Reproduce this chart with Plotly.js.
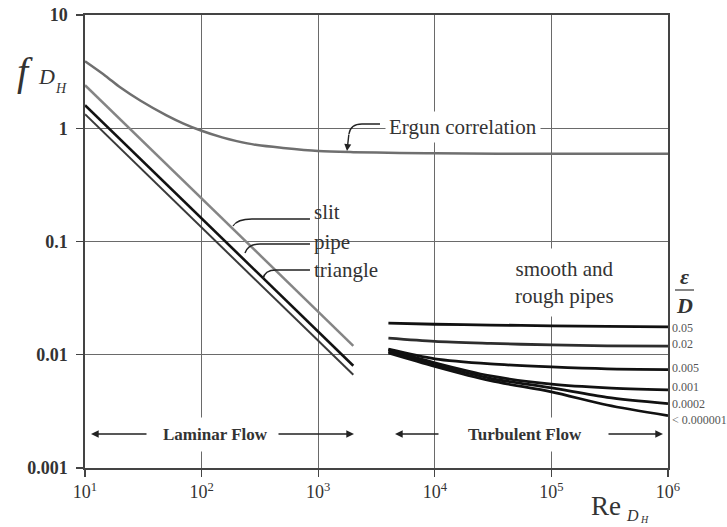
<!DOCTYPE html>
<html>
<head>
<meta charset="utf-8">
<script src="https://cdn.plot.ly/plotly-3.0.1.min.js"></script>
<style>
  html, body { margin: 0; padding: 0; background: #fff; }
  #chart { width: 727px; height: 527px; }
</style>
</head>
<body>
<div id="chart"></div>
<script>
// Laminar lines (Fanning friction factor vs Reynolds number)
const laminarRe = [10, 2000];
const slitF = [2.4, 0.012];
const pipeF = [1.6, 0.008];
const triangleF = [1.33, 0.00665];

// Ergun correlation for packed beds
const ergunRe = [10, 15, 20, 30, 50, 70, 100, 150, 200, 300, 500, 1000, 2000, 5000, 1e4, 1e5, 1e6];
const ergunF = [3.9, 2.9, 2.3, 1.75, 1.3, 1.1, 0.95, 0.83, 0.77, 0.71, 0.67, 0.63, 0.615, 0.605, 0.6, 0.595, 0.595];

// Turbulent flow: smooth and rough pipes
const turbRe = [4000, 1e4, 3e4, 1e5, 3e5, 1e6];
const roughnessLabels = ['0.05', '0.02', '0.005', '0.001', '0.0002', '< 0.000001'];
const turbF = [
  [0.0190, 0.0186, 0.0183, 0.0180, 0.0178, 0.0176],
  [0.0140, 0.0131, 0.0126, 0.0122, 0.0120, 0.0119],
  [0.0112, 0.0092, 0.0083, 0.0078, 0.0075, 0.0074],
  [0.0111, 0.0085, 0.0065, 0.0055, 0.0051, 0.0049],
  [0.0107, 0.0082, 0.0062, 0.0051, 0.0042, 0.0037],
  [0.0104, 0.0079, 0.0059, 0.0047, 0.0036, 0.0029]
];

const xTickVals = [1e1, 1e2, 1e3, 1e4, 1e5, 1e6];
const xTickText = ['10<sup>1</sup>', '10<sup>2</sup>', '10<sup>3</sup>', '10<sup>4</sup>', '10<sup>5</sup>', '10<sup>6</sup>'];
const yTickVals = [0.001, 0.01, 0.1, 1, 10];
const yTickText = ['0.001', '0.01', '0.1', '1', '10'];

// plot frame in pixels
const L = 85, R = 668, T = 15, B = 468;
const X = p => (p - L) / (R - L);
const Y = p => (B - p) / (B - T);

const serif = 'Liberation Serif, Times New Roman, serif';
const ink = '#333';

const traces = [];
traces.push({x: ergunRe, y: ergunF, mode: 'lines', line: {color: '#6f6f6f', width: 2.5, shape: 'spline', smoothing: 0.8}, hoverinfo: 'skip'});
traces.push({x: laminarRe, y: slitF, mode: 'lines', line: {color: '#858585', width: 2.5}, hoverinfo: 'skip'});
traces.push({x: laminarRe, y: pipeF, mode: 'lines', line: {color: '#111', width: 2.6}, hoverinfo: 'skip'});
traces.push({x: laminarRe, y: triangleF, mode: 'lines', line: {color: '#3a3a3a', width: 2}, hoverinfo: 'skip'});
turbF.forEach((f, i) => {
  traces.push({x: turbRe, y: f, mode: 'lines',
    line: {color: i === 1 ? '#2e2e2e' : '#111', width: 2.8, shape: 'spline', smoothing: 0.8},
    hoverinfo: 'skip'});
});

const labelYs = [328, 344, 368, 387, 404, 420];
const annotations = [];
roughnessLabels.forEach((t, i) => {
  annotations.push({xref: 'paper', yref: 'paper', x: X(670), y: Y(labelYs[i]), xanchor: 'left', yanchor: 'middle',
    text: t, showarrow: false, font: {family: serif, size: 12, color: '#555'}});
});

function txt(t, px, py, size, opts) {
  return Object.assign({xref: 'paper', yref: 'paper', x: X(px), y: Y(py), text: t, showarrow: false,
    xanchor: 'center', yanchor: 'middle',
    font: {family: serif, size: size, color: ink}}, opts || {});
}

annotations.push(txt('Ergun correlation', 463, 127, 21, {bgcolor: 'white', borderpad: 3}));
annotations.push(txt('slit', 312, 212, 21, {xanchor: 'left'}));
annotations.push(txt('pipe', 312, 242, 21, {xanchor: 'left'}));
annotations.push(txt('triangle', 312, 270, 21, {xanchor: 'left'}));
annotations.push(txt('smooth and<br>rough pipes', 564, 282, 21, {bgcolor: 'white', borderpad: 8}));
annotations.push(txt('<b>Laminar Flow</b>', 215, 434, 17, {bgcolor: 'white', borderpad: 7}));
annotations.push(txt('<b>Turbulent Flow</b>', 525, 434, 17, {bgcolor: 'white', borderpad: 7}));
annotations.push(txt('<b><i>ε</i></b>', 684, 276, 22));
annotations.push(txt('<b><i>D</i></b>', 684, 305, 22));

// axis titles
annotations.push(txt('<i>f</i>', 25, 72, 40));
annotations.push(txt('<i>D</i>', 46, 76, 22));
annotations.push(txt('<i>H</i>', 61, 88, 14));
annotations.push(txt('Re', 606, 506, 27));
annotations.push(txt('<i>D</i>', 632, 515, 16));
annotations.push(txt('<i>H</i>', 644, 519, 10));

// flow-regime arrows
function arrow(headX, tailX, py) {
  return {xref: 'paper', yref: 'paper', x: X(headX), y: Y(py), ax: tailX - headX, ay: 0,
    axref: 'pixel', ayref: 'pixel', text: '', showarrow: true, arrowhead: 2, arrowsize: 1.1,
    arrowwidth: 1.4, arrowcolor: '#222'};
}
annotations.push(arrow(91, 148, 434));
annotations.push(arrow(354, 277, 434));
annotations.push(arrow(395, 440, 434));
annotations.push(arrow(663, 607, 434));
// Ergun pointer head
annotations.push({xref: 'paper', yref: 'paper', x: X(347), y: Y(151), ax: 2, ay: -18,
  axref: 'pixel', ayref: 'pixel', text: '', showarrow: true, arrowhead: 2, arrowsize: 1,
  arrowwidth: 1.4, arrowcolor: '#222'});

function pathP(pts) {
  // pts: [[x,y], ...] in pixels -> "M ... L ... C ..." in paper coords
  const p = pts.map(([a, b]) => X(a).toFixed(4) + ',' + Y(b).toFixed(4));
  return 'M' + p[0] + ' L' + p[1] + ' C' + p[2] + ' ' + p[3] + ' ' + p[4];
}
const leader = {type: 'path', xref: 'paper', yref: 'paper', line: {color: '#222', width: 1.4}, layer: 'above'};
const shapes = [
  // white backing behind the laminar labels
  {type: 'rect', xref: 'paper', yref: 'paper', x0: X(304), x1: X(394), y0: Y(289), y1: Y(198),
    fillcolor: 'white', line: {width: 0}, layer: 'below'},
  Object.assign({path: pathP([[310, 219], [252, 219], [242, 219], [236, 221], [233, 226]])}, leader),
  Object.assign({path: pathP([[310, 244], [260, 244], [252, 244], [247, 247], [245, 253]])}, leader),
  Object.assign({path: pathP([[310, 270], [276, 270], [268, 270], [264, 273], [263, 279]])}, leader),
  Object.assign({path: pathP([[380, 124], [362, 124], [354, 124], [350, 127], [349, 134]])}, leader),
  // fraction bar for epsilon / D
  {type: 'line', xref: 'paper', yref: 'paper', x0: X(675), x1: X(694), y0: Y(290), y1: Y(290),
    line: {color: '#444', width: 1.3}}
];

const axisCommon = {
  type: 'log', showline: true, mirror: true, linecolor: '#444', linewidth: 1.6,
  showgrid: true, gridcolor: '#6a6a6a', gridwidth: 1.4, zeroline: false,
  ticks: 'outside', ticklen: 7, tickcolor: '#444', tickwidth: 1.4,
  tickmode: 'array', minor: {showgrid: false}
};

const layout = {
  width: 727, height: 527,
  margin: {l: L, r: 727 - R, t: T, b: 527 - B},
  paper_bgcolor: 'white', plot_bgcolor: 'white',
  showlegend: false,
  xaxis: Object.assign({}, axisCommon, {range: [1, 6], tickvals: xTickVals, ticktext: xTickText,
    tickfont: {family: serif, size: 18, color: ink}}),
  yaxis: Object.assign({}, axisCommon, {range: [-3, 1], tickvals: yTickVals, ticktext: yTickText,
    ticklabelstandoff: 5,
    tickfont: {family: serif, size: 18, color: ink, weight: 'bold'}}),
  annotations: annotations,
  shapes: shapes
};

Plotly.newPlot('chart', traces, layout, {displayModeBar: false, staticPlot: true});
</script>
</body>
</html>
